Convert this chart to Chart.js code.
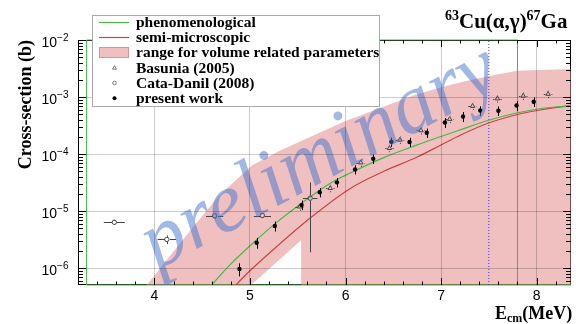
<!DOCTYPE html>
<html>
<head>
<meta charset="utf-8">
<script src="https://cdn.jsdelivr.net/npm/chart.js@4.4.0/dist/chart.umd.min.js"></script>
<style>
  html, body { margin: 0; padding: 0; background: #fff; }
  canvas { display: block; }
</style>
</head>
<body>
<canvas id="c" width="576" height="324"></canvas>
<script>
// 63Cu(alpha,gamma)67Ga: energies in MeV (centre of mass), cross sections in barn

// axis ranges and tick labels
const X_MIN = 3.2, X_MAX = 8.36;
const Y_MIN = 5.09e-7, Y_MAX = 1e-2;
const xMajor = [4, 5, 6, 7, 8];
const xLabels = ['4', '5', '6', '7', '8'];
const yMajor = [1e-6, 1e-5, 1e-4, 1e-3, 1e-2];
const yExponents = ['\u22126', '\u22125', '\u22124', '\u22123', '\u22122'];

// present work
const presentE     = [4.89, 5.07, 5.26, 5.54, 5.73, 5.91, 6.10, 6.29, 6.48, 6.67, 6.85, 7.04, 7.23, 7.41, 7.60, 7.79, 7.97];
const presentSigma = [9.7e-7, 2.8e-6, 5.5e-6, 1.29e-5, 2.15e-5, 3.2e-5, 5.4e-5, 8.3e-5, 1.64e-4, 1.63e-4, 2.37e-4, 3.58e-4, 4.57e-4, 5.8e-4, 5.76e-4, 7.1e-4, 8.3e-4];
const presentErr   = [2.5e-7, 6e-7, 1.1e-6, 2.5e-6, 4e-6, 6e-6, 1.0e-5, 1.6e-5, 3e-5, 3e-5, 4.5e-5, 7e-5, 9e-5, 1.1e-4, 1.1e-4, 1.4e-4, 1.6e-4];

// Basunia (2005)
const basuniaE      = [5.52, 5.84, 6.16, 6.46, 6.57, 6.79, 7.09, 7.33, 7.59, 7.86, 8.12];
const basuniaSigma  = [1.2e-5, 2.53e-5, 7.1e-5, 1.27e-4, 1.78e-4, 2.6e-4, 4.1e-4, 6.95e-4, 9.4e-4, 1.05e-3, 1.13e-3];
const basuniaErr    = [1.8e-6, 3.8e-6, 1.1e-5, 1.9e-5, 2.7e-5, 3.9e-5, 6e-5, 1e-4, 1.4e-4, 1.6e-4, 1.7e-4];
const basuniaErrE   = [0.045, 0.045, 0.045, 0.045, 0.045, 0.045, 0.045, 0.045, 0.045, 0.045, 0.045];

// Cata-Danil (2008)
const cataE     = [3.58, 4.13, 4.63, 5.13, 5.63];
const cataSigma = [6.4e-6, 3.2e-6, 8.3e-6, 8.4e-6, 1.69e-5];
const cataErr   = [5e-7, 5.5e-7, 1e-6, 7e-7, 1.5e-5];
const cataErrE  = [0.11, 0.096, 0.09, 0.09, 0.076];

// phenomenological model
const phenoE     = [4.55, 4.60, 4.79, 5.07, 5.26, 5.54, 5.84, 6.05, 6.40, 6.75, 7.00, 7.20, 7.49, 7.79, 8.05, 8.36];
const phenoSigma = [4.0e-7, 5.1e-7, 1.15e-6, 3.16e-6, 6.0e-6, 1.38e-5, 3.09e-5, 4.68e-5, 8.7e-5, 1.45e-4, 2.04e-4, 2.66e-4, 3.89e-4, 5.25e-4, 6.3e-4, 7.08e-4];

// semi-microscopic model
const semiE     = [4.80, 4.854, 4.97, 5.30, 5.63, 6.05, 6.40, 6.75, 7.00, 7.20, 7.49, 7.79, 8.05, 8.36];
const semiSigma = [4.0e-7, 5.1e-7, 8.1e-7, 2.57e-6, 7.6e-6, 2.51e-5, 5.0e-5, 8.9e-5, 1.45e-4, 2.14e-4, 3.47e-4, 4.9e-4, 6.0e-4, 7.08e-4];

// range for volume related parameters (closed outline)
const bandE     = [3.85, 3.92, 4.38, 4.67, 5.02, 5.30, 5.64, 6.00, 6.35, 6.70, 7.00, 7.25, 7.60, 7.80, 8.10, 8.36, 8.36, 5.535, 5.535, 4.95];
const bandSigma = [3.5e-7, 5.1e-7, 4.7e-6, 1.82e-5, 6.3e-5, 1.12e-4, 2.04e-4, 3.8e-4, 6.3e-4, 1.05e-3, 1.48e-3, 1.9e-3, 2.5e-3, 2.9e-3, 3.0e-3, 3.1e-3, 3.0e-7, 3.0e-7, 3.1e-6, 4.1e-7];

// energy window outline and 7.5 MeV marker
const windowE     = [8.36, 3.29, 3.29, 7.8, 7.8];
const windowSigma = [Y_MIN, Y_MIN, Y_MAX, Y_MAX, Y_MIN];
const markerE     = [7.5, 7.5];
const markerSigma = [Y_MIN, Y_MAX];

const GREEN = 'rgb(70,185,70)';
const RED = 'rgb(205,65,65)';
const PINK = 'rgba(228,140,140,0.55)';

const pts = (xs, ys) => xs.map((v, i) => ({ x: v, y: ys[i] }));

// error bars drawn with the chart's own scales
function drawErrors(chart, E, S, vErr, hErr, gap, color) {
  const { ctx, scales: { x, y } } = chart;
  ctx.strokeStyle = color;
  ctx.lineWidth = 1;
  for (let i = 0; i < E.length; i++) {
    const px = Math.round(x.getPixelForValue(E[i])) + 0.5;
    const py = y.getPixelForValue(S[i]);
    ctx.beginPath();
    const top = y.getPixelForValue(S[i] + vErr[i]);
    const low = S[i] - vErr[i] > 0 ? y.getPixelForValue(S[i] - vErr[i]) : chart.chartArea.bottom + 5;
    ctx.moveTo(px, top); ctx.lineTo(px, py - gap);
    ctx.moveTo(px, py + gap); ctx.lineTo(px, low);
    if (hErr) {
      const ry = Math.round(py) + 0.5;
      ctx.moveTo(x.getPixelForValue(E[i] - hErr[i]), ry); ctx.lineTo(px - gap, ry);
      ctx.moveTo(px + gap, ry); ctx.lineTo(x.getPixelForValue(E[i] + hErr[i]), ry);
    }
    ctx.stroke();
  }
}

const overlay = {
  id: 'overlay',
  beforeDatasetsDraw(chart) {
    const { ctx, chartArea: a } = chart;
    ctx.save();
    ctx.strokeStyle = '#000';
    ctx.lineWidth = 1;
    ctx.strokeRect(a.left + 0.5, a.top + 0.5, a.width - 1, a.height - 1);
    ctx.restore();
  },
  afterDatasetsDraw(chart) {
    const { ctx, chartArea: a } = chart;
    ctx.save();
    ctx.beginPath();
    ctx.rect(a.left, a.top, a.width, a.height);
    ctx.clip();
    drawErrors(chart, cataE, cataSigma, cataErr, cataErrE, 2.5, '#444');
    drawErrors(chart, basuniaE, basuniaSigma, basuniaErr, basuniaErrE, 3, '#444');
    drawErrors(chart, presentE, presentSigma, presentErr, null, 0, '#000');
    // watermark
    ctx.translate(322, 162);
    ctx.rotate(-28 * Math.PI / 180);
    ctx.font = 'italic 84px "Liberation Serif"';
    ctx.fillStyle = 'rgba(65,115,205,0.5)';
    ctx.textAlign = 'center';
    ctx.textBaseline = 'alphabetic';
    ctx.fillText('preliminary', 0, 18);
    ctx.restore();
  },
  afterDraw(chart) {
    const { ctx, chartArea: a, scales: { x, y } } = chart;
    ctx.save();
    ctx.strokeStyle = '#000';
    ctx.lineWidth = 1;
    ctx.beginPath();
    // x ticks (inside, bottom and top)
    for (let k = 16; k <= 41; k++) {
      const v = k / 5;
      if (v < X_MIN || v > X_MAX) continue;
      const major = Math.abs(v - Math.round(v)) < 1e-6;
      const len = major ? 7 : 3.5;
      const px = Math.round(x.getPixelForValue(v)) + 0.5;
      ctx.moveTo(px, a.bottom); ctx.lineTo(px, a.bottom - len);
      ctx.moveTo(px, a.top); ctx.lineTo(px, a.top + len);
    }
    // y ticks (inside, left and right)
    for (let e = -7; e <= -2; e++) {
      for (let m = 1; m <= 9; m++) {
        const v = m * Math.pow(10, e);
        if (v < Y_MIN || v > Y_MAX * 1.0001) continue;
        const len = m === 1 ? 8 : 5;
        const py = Math.round(y.getPixelForValue(v)) + 0.5;
        ctx.moveTo(a.left, py); ctx.lineTo(a.left + len, py);
        ctx.moveTo(a.right, py); ctx.lineTo(a.right - len, py);
      }
    }
    ctx.stroke();

    // tick labels
    ctx.fillStyle = '#000';
    ctx.textBaseline = 'alphabetic';
    ctx.font = '14px "Liberation Sans"';
    ctx.textAlign = 'center';
    xMajor.forEach((v, i) => ctx.fillText(xLabels[i], x.getPixelForValue(v), 300));
    yMajor.forEach((v, i) => {
      const py = y.getPixelForValue(v);
      ctx.font = '10px "Liberation Sans"';
      ctx.textAlign = 'right';
      const w = ctx.measureText(yExponents[i]).width;
      ctx.fillText(yExponents[i], 68.5, py + 1);
      ctx.font = '14px "Liberation Sans"';
      ctx.fillText('10', 68.5 - w, py + 7);
    });

    // axis titles
    ctx.font = 'bold 18px "Liberation Serif"';
    ctx.save();
    ctx.translate(30.5, a.top);
    ctx.rotate(-Math.PI / 2);
    ctx.textAlign = 'right';
    ctx.fillText('Cross-section (b)', 0, 0);
    ctx.restore();

    ctx.textAlign = 'left';
    let cx = 495;
    ctx.font = 'bold 18px "Liberation Serif"';
    ctx.fillText('E', cx, 319); cx += ctx.measureText('E').width;
    ctx.font = 'bold 12px "Liberation Serif"';
    ctx.fillText('cm', cx, 322); cx += ctx.measureText('cm').width;
    ctx.font = 'bold 18px "Liberation Serif"';
    ctx.fillText('(MeV)', cx, 319);

    // reaction label
    cx = 445;
    const parts = [['63', 14, 20], ['Cu(\u03b1,\u03b3)', 21, 28], ['67', 14, 20], ['Ga', 21, 28]];
    parts.forEach(([t, s, b]) => {
      ctx.font = 'bold ' + s + 'px "Liberation Serif"';
      ctx.fillText(t, cx, b);
      cx += ctx.measureText(t).width;
    });

    // legend
    ctx.fillStyle = '#fff';
    ctx.fillRect(92, 15, 288, 92);
    ctx.strokeStyle = '#aaa';
    ctx.strokeRect(92.5, 15.5, 287, 91);
    const rows = [22, 37, 52.3, 67.7, 83, 98.3];
    ctx.lineWidth = 1.2;
    ctx.strokeStyle = GREEN;
    ctx.beginPath(); ctx.moveTo(99, rows[0] + 0.5); ctx.lineTo(129, rows[0] + 0.5); ctx.stroke();
    ctx.strokeStyle = RED;
    ctx.beginPath(); ctx.moveTo(99, rows[1] + 0.5); ctx.lineTo(129, rows[1] + 0.5); ctx.stroke();
    ctx.lineWidth = 1;
    ctx.fillStyle = PINK;
    ctx.fillRect(99, 47, 30, 11);
    ctx.strokeStyle = 'rgba(200,120,120,0.6)';
    ctx.strokeRect(99.5, 47.5, 29, 10);
    ctx.strokeStyle = '#777';
    ctx.beginPath();
    ctx.moveTo(114.5, rows[3] - 2); ctx.lineTo(116.5, rows[3] + 1.5); ctx.lineTo(112.5, rows[3] + 1.5); ctx.closePath();
    ctx.stroke();
    ctx.beginPath(); ctx.arc(114.5, rows[4], 1.8, 0, Math.PI * 2); ctx.stroke();
    ctx.fillStyle = '#000';
    ctx.beginPath(); ctx.arc(114.5, rows[5], 2, 0, Math.PI * 2); ctx.fill();

    const names = ['phenomenological', 'semi-microscopic', 'range for volume related parameters',
                   'Basunia (2005)', 'Cata-Danil (2008)', 'present work'];
    ctx.font = 'bold 15.5px "Liberation Serif"';
    ctx.textBaseline = 'middle';
    ctx.fillStyle = '#000';
    names.forEach((t, i) => ctx.fillText(t, 136, rows[i] + 1));
    ctx.restore();
  }
};

new Chart(document.getElementById('c'), {
  type: 'line',
  data: {
    datasets: [
      { label: 'range for volume related parameters', data: pts(bandE, bandSigma), fill: 'shape',
        backgroundColor: PINK, borderWidth: 0, borderColor: 'rgba(0,0,0,0)', pointRadius: 0, tension: 0, order: 10 },
      { label: 'window', data: pts(windowE, windowSigma), borderColor: GREEN, borderWidth: 1,
        pointRadius: 0, tension: 0, clip: false, fill: false, order: 8 },
      { label: 'limit', data: pts(markerE, markerSigma), borderColor: 'rgb(50,50,255)', borderWidth: 1,
        borderDash: [1, 2], pointRadius: 0, fill: false, order: 7 },
      { label: 'phenomenological', data: pts(phenoE, phenoSigma), borderColor: GREEN, borderWidth: 1.2,
        pointRadius: 0, cubicInterpolationMode: 'monotone', fill: false, order: 5 },
      { label: 'semi-microscopic', data: pts(semiE, semiSigma), borderColor: RED, borderWidth: 1.2,
        pointRadius: 0, cubicInterpolationMode: 'monotone', fill: false, order: 5 },
      { label: 'Basunia (2005)', data: pts(basuniaE, basuniaSigma), showLine: false, pointStyle: 'triangle',
        pointRadius: 2.6, borderColor: '#444', backgroundColor: 'rgba(0,0,0,0)', pointBorderWidth: 1, order: 2 },
      { label: 'Cata-Danil (2008)', data: pts(cataE, cataSigma), showLine: false, pointStyle: 'circle',
        pointRadius: 2.2, borderColor: '#444', backgroundColor: 'rgba(0,0,0,0)', pointBorderWidth: 1, order: 2 },
      { label: 'present work', data: pts(presentE, presentSigma), showLine: false, pointStyle: 'circle',
        pointRadius: 2.2, borderColor: '#000', backgroundColor: '#000', pointBorderWidth: 0, order: 1 }
    ]
  },
  options: {
    responsive: false,
    animation: false,
    devicePixelRatio: 1,
    layout: { padding: { left: 78, right: 5, top: 40, bottom: 39 } },
    plugins: { legend: { display: false }, tooltip: { enabled: false } },
    scales: {
      x: {
        type: 'linear', min: X_MIN, max: X_MAX,
        ticks: { display: false },
        grid: { drawTicks: false, color: 'rgba(0,0,0,0.2)', z: 1 },
        border: { display: false },
        afterBuildTicks: s => { s.ticks = xMajor.map(v => ({ value: v })); }
      },
      y: {
        type: 'logarithmic', min: Y_MIN, max: Y_MAX,
        ticks: { display: false },
        grid: { drawTicks: false, color: 'rgba(0,0,0,0.2)', z: 1 },
        border: { display: false },
        afterBuildTicks: s => { s.ticks = yMajor.map(v => ({ value: v })); }
      }
    }
  },
  plugins: [overlay]
});
</script>
</body>
</html>
